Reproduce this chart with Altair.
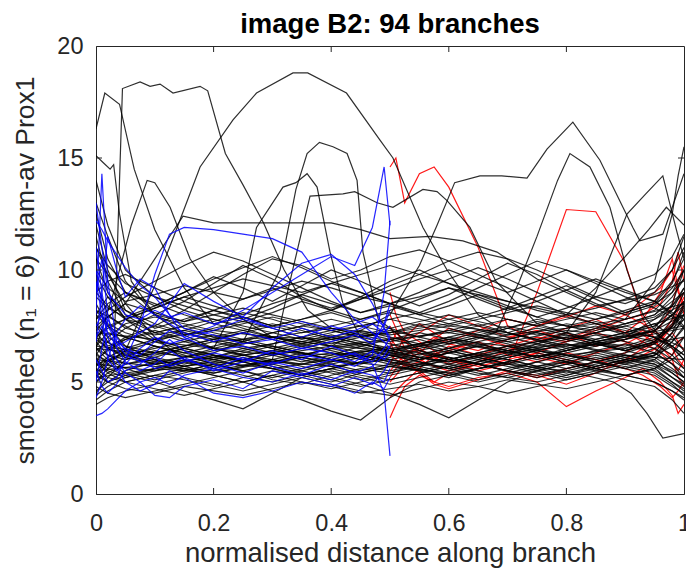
import altair as alt
import pandas as pd

W, H = 588, 448

title_text = "image B2: 94 branches"
x_title = "normalised distance along branch"
y_title = "smoothed (n\u2081 = 6) diam-av Prox1"

x_tick_values = [0, 0.2, 0.4, 0.6, 0.8, 1]
y_tick_values = [0, 5, 10, 15, 20]
x_inner_ticks = [0.2, 0.4, 0.6, 0.8]
y_inner_ticks = [5, 10, 15]

# shared sample positions
x_full = [0, 0.02, 0.05, 0.1, 0.15, 0.2, 0.25, 0.3, 0.35, 0.4, 0.45, 0.5,
          0.55, 0.6, 0.65, 0.7, 0.75, 0.8, 0.85, 0.9, 0.95, 0.98, 1]
x_left = [0, 0.01, 0.02, 0.035, 0.05, 0.075, 0.1, 0.125, 0.15, 0.2, 0.25,
          0.3, 0.35, 0.4, 0.44, 0.47, 0.49, 0.5]
x_right = [0.5, 0.51, 0.525, 0.55, 0.575, 0.6, 0.65, 0.7, 0.75, 0.8, 0.85,
           0.9, 0.93, 0.96, 0.98, 0.99, 1]

# black branches sampled on x_full
black_band = [
    [5.0, 5.4, 5.8, 6.0, 5.7, 5.9, 6.2, 6.0, 5.8, 6.1, 6.4, 6.2, 6.0, 6.3, 6.6, 6.4, 6.1, 6.5, 6.8, 6.6, 7.0, 7.4, 7.8],
    [9.5, 8.0, 7.4, 7.1, 7.3, 7.0, 6.8, 7.2, 7.5, 7.3, 7.0, 7.2, 7.6, 7.4, 7.1, 7.4, 7.7, 7.5, 7.3, 7.6, 8.0, 8.8, 9.6],
    [4.2, 4.6, 5.0, 5.3, 5.1, 4.8, 5.2, 5.5, 5.3, 5.0, 5.4, 5.7, 5.5, 5.2, 5.6, 5.9, 5.6, 5.3, 5.7, 6.0, 5.8, 5.2, 4.8],
    [12.0, 10.0, 8.2, 7.4, 7.8, 8.2, 7.9, 7.5, 7.8, 8.1, 7.7, 7.4, 7.0, 7.3, 7.6, 7.2, 6.9, 7.2, 7.5, 7.1, 6.8, 7.5, 8.5],
    [6.5, 6.0, 5.6, 5.2, 5.5, 5.8, 5.5, 5.1, 4.9, 5.3, 5.6, 5.4, 5.8, 6.1, 5.8, 5.5, 5.9, 6.2, 5.9, 5.6, 6.0, 6.8, 7.5],
    [8.0, 8.8, 8.2, 7.6, 7.2, 6.8, 6.5, 6.7, 7.0, 6.6, 6.3, 6.6, 6.9, 6.5, 6.2, 6.5, 6.8, 7.1, 6.8, 6.4, 6.7, 6.2, 5.6],
    [5.5, 5.0, 4.7, 4.5, 4.8, 4.6, 4.4, 4.7, 5.0, 4.8, 4.5, 4.7, 4.9, 4.6, 4.8, 5.1, 4.9, 4.7, 5.0, 5.3, 5.0, 4.6, 4.3],
    [10.5, 9.0, 7.8, 6.9, 6.5, 6.2, 6.0, 6.3, 6.1, 5.9, 6.2, 6.5, 6.3, 6.0, 5.8, 6.1, 6.4, 6.2, 6.0, 6.3, 6.7, 7.5, 8.2],
    [7.0, 7.5, 7.8, 7.5, 7.1, 7.4, 7.7, 7.4, 7.0, 6.7, 7.0, 7.3, 7.0, 6.7, 7.0, 7.4, 7.8, 7.5, 7.2, 7.6, 8.0, 8.6, 9.0],
    [4.5, 5.2, 6.0, 6.4, 6.1, 6.5, 6.8, 6.5, 6.2, 6.5, 6.7, 6.4, 6.1, 5.9, 6.2, 6.0, 5.7, 5.9, 6.2, 5.9, 5.6, 5.0, 4.6],
    [13.0, 11.5, 9.5, 8.0, 7.4, 7.0, 7.3, 7.6, 7.3, 6.9, 6.6, 6.9, 7.2, 6.9, 6.6, 6.9, 7.2, 6.9, 6.6, 6.9, 7.4, 8.5, 10.0],
    [5.8, 5.5, 5.2, 5.5, 5.9, 5.6, 5.3, 5.0, 5.3, 5.6, 5.3, 5.1, 5.4, 5.7, 5.4, 5.2, 5.5, 5.8, 5.5, 5.3, 5.6, 6.0, 6.4],
    [9.0, 8.4, 7.8, 8.3, 8.8, 8.4, 8.0, 8.5, 8.9, 8.5, 8.1, 8.4, 8.0, 7.6, 7.9, 8.3, 7.9, 7.5, 7.8, 8.2, 8.6, 9.5, 10.5],
    [6.0, 6.4, 6.9, 7.3, 6.9, 6.5, 6.2, 5.9, 6.2, 6.5, 6.2, 5.9, 5.7, 6.0, 6.3, 6.6, 6.3, 6.0, 5.7, 6.0, 6.3, 5.8, 5.2],
    [7.5, 6.8, 6.2, 5.8, 6.1, 6.4, 6.7, 7.0, 6.7, 7.0, 7.3, 7.0, 6.7, 7.0, 7.3, 7.0, 6.7, 6.4, 6.7, 7.0, 7.3, 8.0, 8.6],
    [11.0, 9.8, 8.5, 7.0, 6.0, 5.6, 5.9, 5.6, 5.3, 5.6, 5.9, 6.2, 5.9, 5.6, 5.3, 5.6, 5.9, 5.6, 5.9, 6.2, 5.9, 5.5, 5.2],
    [4.8, 4.5, 4.3, 4.6, 4.9, 5.2, 5.5, 5.8, 6.1, 5.8, 5.5, 5.8, 6.1, 6.4, 6.1, 5.8, 6.1, 6.4, 6.7, 6.4, 6.8, 7.5, 8.0],
    [6.2, 7.0, 7.6, 7.9, 7.6, 7.3, 7.6, 7.9, 7.6, 7.3, 7.5, 7.8, 7.5, 7.2, 7.5, 7.8, 7.5, 7.2, 6.9, 7.2, 7.6, 7.0, 6.4],
    [8.5, 7.5, 6.6, 6.0, 5.7, 5.4, 5.7, 6.0, 5.7, 5.4, 5.1, 5.4, 5.7, 5.4, 5.1, 5.4, 5.7, 6.0, 6.3, 6.0, 6.3, 7.2, 8.4],
    [5.2, 5.8, 6.4, 6.8, 7.2, 6.9, 6.6, 6.3, 6.6, 6.9, 7.2, 6.9, 6.6, 6.3, 6.0, 6.3, 6.6, 6.9, 7.2, 7.5, 7.2, 6.6, 6.0],
    [14.0, 12.0, 10.0, 8.8, 8.2, 7.8, 7.4, 7.0, 6.7, 7.0, 6.7, 6.4, 6.7, 7.0, 6.7, 6.4, 6.1, 6.4, 6.7, 6.4, 6.8, 7.8, 9.0],
    [6.8, 6.2, 5.8, 6.1, 6.5, 6.2, 5.9, 6.2, 6.5, 6.8, 6.5, 6.2, 6.5, 6.8, 7.1, 6.8, 6.5, 6.8, 7.1, 6.8, 6.5, 6.0, 5.6],
    [4.0, 4.3, 4.6, 4.9, 5.2, 4.9, 4.6, 4.9, 5.2, 4.9, 4.6, 4.4, 4.7, 5.0, 4.8, 4.5, 4.8, 5.1, 5.4, 5.1, 4.8, 4.2, 3.6],
    [7.8, 8.5, 9.0, 8.5, 8.0, 7.6, 7.9, 7.5, 7.2, 7.5, 7.8, 8.1, 7.8, 7.5, 7.8, 8.1, 8.4, 8.1, 7.8, 8.1, 8.5, 9.4, 10.8],
    [5.5, 6.0, 6.3, 6.0, 5.7, 6.0, 6.3, 6.6, 6.3, 6.0, 5.7, 5.5, 5.8, 6.1, 5.8, 5.5, 5.3, 5.6, 5.9, 6.2, 6.0, 5.4, 5.0],
    [9.8, 8.8, 7.8, 7.2, 6.8, 7.1, 6.8, 6.5, 6.8, 7.1, 6.8, 6.5, 6.2, 6.5, 6.8, 7.1, 7.4, 7.1, 6.8, 7.1, 7.5, 8.2, 9.2],
    [6.3, 5.8, 5.4, 5.1, 5.4, 5.7, 6.0, 5.7, 5.4, 5.1, 4.8, 5.1, 5.4, 5.7, 6.0, 5.7, 5.4, 5.1, 5.4, 5.7, 5.4, 4.9, 4.4],
    [7.2, 6.6, 6.9, 7.2, 7.5, 7.8, 7.5, 7.2, 6.9, 7.2, 7.5, 7.8, 8.1, 7.8, 7.5, 7.2, 6.9, 6.6, 6.9, 7.2, 7.0, 6.5, 6.0],
    [5.0, 5.6, 6.1, 6.6, 6.3, 6.0, 5.7, 6.0, 6.3, 6.0, 5.8, 6.1, 6.4, 6.1, 5.8, 6.1, 6.4, 6.7, 6.4, 6.1, 6.5, 7.2, 7.8],
    [12.5, 10.5, 9.0, 8.0, 7.7, 8.0, 8.3, 8.0, 7.7, 7.4, 7.1, 7.4, 7.7, 8.0, 7.7, 7.4, 7.1, 7.4, 7.7, 7.4, 7.0, 6.6, 6.2],
    [6.0, 5.4, 5.0, 4.7, 4.4, 4.7, 5.0, 5.3, 5.0, 4.7, 5.0, 5.3, 5.6, 5.3, 5.0, 5.3, 5.6, 5.9, 5.6, 5.3, 5.6, 6.2, 7.0],
    [8.2, 7.6, 7.2, 6.8, 6.4, 6.1, 6.4, 6.7, 7.0, 7.3, 7.0, 6.7, 6.4, 6.7, 7.0, 6.7, 6.4, 6.1, 6.4, 6.7, 6.3, 5.8, 5.4],
    [4.6, 5.0, 5.5, 5.9, 5.6, 5.3, 5.0, 5.3, 5.6, 5.9, 6.2, 5.9, 5.6, 5.3, 5.6, 5.9, 6.2, 5.9, 5.6, 5.9, 6.2, 6.8, 7.4],
    [10.0, 9.2, 8.6, 8.9, 9.3, 9.0, 8.7, 9.1, 9.5, 9.2, 8.8, 8.5, 8.8, 9.2, 8.9, 8.6, 8.3, 8.0, 8.3, 8.7, 9.2, 10.0, 11.5],
    [5.3, 5.0, 5.3, 5.6, 5.9, 6.2, 5.9, 5.6, 5.3, 5.6, 5.9, 6.2, 5.9, 5.6, 5.9, 6.2, 6.5, 6.2, 5.9, 5.6, 5.3, 4.8, 4.5],
    [7.6, 7.0, 6.6, 6.3, 6.6, 6.9, 7.2, 6.9, 6.6, 6.3, 6.0, 6.3, 6.6, 6.9, 7.2, 7.5, 7.2, 6.9, 7.2, 7.5, 7.8, 8.4, 9.2],
    [5.9, 6.5, 7.0, 6.6, 6.2, 5.8, 5.5, 5.2, 5.5, 5.8, 6.1, 5.8, 5.5, 5.8, 6.1, 5.8, 5.5, 5.2, 5.5, 5.8, 5.5, 5.0, 4.7],
    [11.5, 9.5, 8.0, 7.2, 7.5, 7.2, 6.9, 7.2, 7.5, 7.8, 7.5, 7.2, 7.5, 7.8, 8.1, 7.8, 7.5, 7.8, 8.1, 7.8, 8.2, 9.0, 10.0],
    [4.4, 4.8, 5.2, 5.6, 6.0, 5.7, 6.0, 6.3, 6.0, 5.7, 5.4, 5.7, 6.0, 6.3, 6.6, 6.3, 6.0, 6.3, 6.6, 6.9, 7.3, 8.0, 8.6],
    [6.6, 7.2, 7.0, 6.6, 6.3, 6.6, 6.9, 6.6, 6.3, 6.0, 6.3, 6.0, 5.7, 6.0, 6.3, 6.0, 5.7, 5.4, 5.7, 6.0, 5.7, 5.2, 4.9],
    [8.0, 7.5, 7.0, 7.5, 8.2, 9.0, 9.8, 10.5, 10.2, 9.6, 10.0, 10.6, 10.9, 10.4, 9.8, 9.2, 8.6, 8.0, 7.6, 7.2, 7.5, 8.0, 8.4],
    [6.0, 5.6, 5.3, 5.0, 4.6, 4.2, 3.8, 4.5, 5.2, 5.5, 5.2, 4.9, 5.2, 5.5, 5.8, 5.5, 5.2, 5.5, 5.8, 6.1, 5.8, 5.4, 5.0],
    [5.6, 5.2, 5.0, 5.3, 5.6, 5.3, 5.0, 4.6, 4.2, 3.7, 3.3, 4.3, 5.0, 5.3, 5.6, 5.9, 6.2, 5.9, 5.6, 5.9, 6.2, 6.6, 7.0],
    [7.0, 6.5, 6.1, 5.8, 5.5, 5.8, 6.1, 5.8, 5.5, 5.2, 4.9, 4.5, 4.0, 3.4, 4.2, 5.0, 5.5, 5.8, 6.1, 5.8, 6.2, 7.0, 8.0],
    [6.5, 6.2, 6.0, 6.3, 6.6, 6.9, 7.2, 7.5, 7.8, 8.2, 8.7, 9.3, 9.8, 10.4, 10.8, 10.5, 10.0, 9.4, 8.8, 8.5, 9.0, 10.0, 11.0],
    [7.0, 7.4, 7.8, 8.3, 8.8, 9.2, 9.6, 9.3, 9.0, 9.4, 9.8, 10.2, 9.8, 9.4, 9.0, 8.6, 8.2, 7.9, 7.6, 7.3, 7.0, 6.6, 6.2],
    [5.7, 6.1, 6.5, 6.9, 7.3, 7.7, 8.1, 7.8, 7.4, 7.0, 6.7, 6.4, 6.1, 5.8, 5.5, 5.2, 5.0, 5.3, 5.6, 5.3, 5.0, 4.6, 4.2],
    [9.0, 9.5, 9.8, 9.2, 8.6, 9.4, 10.2, 9.6, 8.8, 8.2, 8.8, 9.5, 10.0, 9.4, 8.8, 8.3, 8.8, 9.3, 8.7, 8.1, 8.5, 9.0, 9.6],
    [10.5, 9.8, 9.0, 8.4, 9.0, 9.7, 9.2, 8.6, 9.3, 10.0, 9.5, 8.9, 8.4, 8.9, 9.6, 10.3, 9.8, 9.1, 8.5, 8.0, 8.4, 9.2, 10.0],
    [7.8, 8.2, 8.8, 9.5, 10.2, 10.8, 10.4, 9.8, 9.2, 8.6, 8.1, 8.5, 9.0, 9.6, 10.1, 9.6, 9.0, 8.4, 8.0, 7.6, 7.9, 8.4, 9.0],
    [6.4, 6.8, 7.4, 8.0, 8.6, 8.2, 7.8, 8.3, 8.9, 9.4, 9.0, 8.5, 8.1, 8.6, 9.2, 9.8, 10.4, 10.0, 9.4, 8.8, 8.3, 7.9, 7.4],
    [11.0, 10.2, 9.4, 8.8, 8.4, 8.0, 7.7, 8.1, 8.6, 8.2, 7.8, 8.2, 8.7, 9.2, 8.7, 8.2, 8.6, 9.1, 9.6, 9.1, 8.6, 8.1, 7.8],
    [8.8, 8.3, 7.9, 8.4, 9.0, 9.6, 10.1, 10.6, 10.1, 9.5, 9.0, 8.5, 8.0, 8.4, 8.9, 8.4, 7.9, 8.3, 8.8, 9.3, 9.8, 10.6, 11.6],
    [7.3, 7.9, 8.5, 8.1, 7.7, 8.2, 8.7, 9.2, 8.7, 8.3, 8.7, 9.1, 9.6, 10.0, 9.5, 9.0, 9.5, 10.0, 9.5, 9.0, 8.6, 8.0, 7.5],
    [5.4, 5.9, 6.4, 6.1, 5.8, 6.1, 6.5, 6.2, 5.9, 6.2, 6.6, 6.3, 6.0, 6.3, 6.7, 6.4, 6.1, 6.4, 6.8, 6.5, 6.9, 7.6, 8.3],
    [6.9, 6.5, 6.2, 6.5, 6.8, 6.5, 6.2, 6.4, 6.7, 6.4, 6.1, 6.4, 6.7, 6.4, 6.1, 6.4, 6.7, 7.0, 6.7, 6.4, 6.1, 5.6, 5.2],
]

# black branches with their own sample positions (the tall excursions)
black_special_x = [
    [0, 0.015, 0.04, 0.065, 0.1, 0.15, 0.2, 0.3, 0.4, 0.5, 0.6, 0.7, 0.8, 0.9, 0.95, 1],
    [0, 0.03, 0.045, 0.075, 0.092, 0.109, 0.131, 0.177, 0.19, 0.22, 0.25, 0.285, 0.32, 0.36, 0.4, 0.5, 0.6, 0.7, 0.8, 0.9, 1],
    [0, 0.05, 0.1, 0.138, 0.177, 0.233, 0.273, 0.335, 0.36, 0.426, 0.483, 0.505, 0.556, 0.597, 0.65, 0.7, 0.8, 0.9, 1],
    [0, 0.05, 0.1, 0.2, 0.25, 0.313, 0.34, 0.359, 0.38, 0.403, 0.427, 0.444, 0.454, 0.48, 0.55, 0.6, 0.7, 0.8, 0.9, 1],
    [0, 0.1, 0.2, 0.25, 0.273, 0.318, 0.34, 0.359, 0.376, 0.398, 0.42, 0.45, 0.5, 0.6, 0.7, 0.8, 0.9, 1],
    [0, 0.1, 0.2, 0.3, 0.33, 0.364, 0.42, 0.44, 0.478, 0.505, 0.556, 0.58, 0.597, 0.636, 0.68, 0.75, 0.85, 0.95, 1],
    [0, 0.05, 0.1, 0.148, 0.2, 0.3, 0.4, 0.45, 0.5, 0.568, 0.624, 0.682, 0.75, 0.85, 0.95, 1],
    [0, 0.1, 0.2, 0.3, 0.4, 0.5, 0.55, 0.58, 0.61, 0.653, 0.69, 0.733, 0.767, 0.811, 0.857, 0.913, 0.925, 0.964, 1],
    [0, 0.1, 0.2, 0.3, 0.4, 0.5, 0.6, 0.68, 0.72, 0.75, 0.785, 0.806, 0.84, 0.874, 0.903, 0.93, 0.96, 1],
    [0, 0.012, 0.024, 0.03, 0.04, 0.06, 0.1, 0.15, 0.2, 0.3, 0.4, 0.5, 0.6, 0.7, 0.8, 0.9, 1],
    [0, 0.03, 0.06, 0.087, 0.1, 0.126, 0.16, 0.2, 0.25, 0.3, 0.4, 0.5, 0.6, 0.7, 0.8, 0.9, 1],
    [0, 0.1, 0.2, 0.3, 0.4, 0.5, 0.6, 0.7, 0.8, 0.85, 0.903, 0.935, 0.964, 0.985, 1],
    [0, 0.1, 0.2, 0.3, 0.4, 0.5, 0.6, 0.7, 0.8, 0.9, 0.95, 0.98, 0.99, 1],
    [0, 0.1, 0.2, 0.3, 0.4, 0.5, 0.6, 0.7, 0.8, 0.88, 0.91, 0.937, 0.964, 1],
    [0, 0.1, 0.2, 0.3, 0.4, 0.5, 0.6, 0.7, 0.8, 0.85, 0.9, 0.94, 0.97, 1],
]
black_special_y = [
    [16.3, 17.9, 17.4, 14.5, 11.8, 9.2, 7.6, 7.0, 6.6, 6.9, 7.2, 6.8, 7.3, 7.0, 7.8, 8.5],
    [6.2, 5.8, 18.1, 18.4, 18.2, 18.3, 17.9, 18.2, 18.0, 15.2, 13.8, 12.1, 10.0, 8.2, 7.4, 6.8, 7.3, 6.9, 7.6, 7.2, 8.0],
    [7.0, 6.4, 9.3, 11.9, 14.6, 16.7, 17.9, 18.8, 18.8, 17.9, 15.8, 15.0, 11.9, 10.0, 8.0, 7.2, 6.5, 6.9, 7.4],
    [5.8, 6.2, 5.9, 6.3, 6.8, 10.0, 13.6, 15.2, 15.7, 15.5, 15.2, 14.0, 10.8, 7.8, 6.4, 6.0, 6.6, 6.2, 6.5, 7.0],
    [8.2, 6.8, 6.5, 9.0, 11.9, 13.7, 13.9, 14.3, 13.7, 10.8, 8.5, 7.0, 6.3, 5.9, 6.4, 6.7, 6.2, 6.0],
    [6.0, 5.7, 5.5, 6.0, 9.5, 13.3, 13.4, 13.5, 13.0, 12.8, 13.6, 13.5, 13.1, 11.9, 9.5, 7.6, 6.8, 7.3, 8.0],
    [7.5, 8.5, 10.5, 12.4, 12.1, 12.1, 12.1, 11.8, 11.4, 11.5, 11.3, 10.8, 9.6, 8.4, 8.9, 9.5],
    [6.5, 6.2, 6.8, 7.0, 6.6, 8.0, 10.2, 12.0, 13.9, 14.2, 14.2, 14.1, 15.4, 16.6, 14.9, 11.9, 11.3, 11.6, 14.3],
    [5.5, 5.8, 6.1, 5.9, 6.3, 6.0, 6.5, 7.2, 9.5, 11.5, 14.0, 15.2, 14.6, 12.8, 10.0, 8.0, 7.0, 6.5],
    [15.1, 14.8, 14.5, 14.7, 12.5, 9.5, 8.0, 7.1, 6.5, 6.2, 6.6, 6.4, 6.8, 6.3, 6.6, 7.0, 7.5],
    [6.5, 9.0, 12.0, 14.0, 13.9, 12.8, 10.5, 9.0, 7.8, 7.0, 6.9, 7.2, 7.6, 7.1, 7.4, 7.8, 8.5],
    [5.2, 5.6, 5.4, 5.9, 5.7, 6.0, 5.6, 6.2, 7.2, 9.0, 12.5, 13.4, 14.2, 12.0, 10.5],
    [6.6, 6.3, 6.0, 6.4, 6.2, 6.5, 6.9, 6.6, 7.0, 7.8, 9.5, 12.5, 14.2, 15.5],
    [5.8, 5.5, 5.9, 5.6, 6.0, 5.7, 5.4, 5.8, 5.5, 5.0, 4.5, 3.6, 2.5, 2.7],
    [7.2, 6.9, 7.3, 7.0, 7.4, 7.1, 7.5, 7.2, 8.0, 9.2, 10.6, 11.8, 12.8, 12.0],
]

# blue branches sampled on x_left (first half of the branch)
blue_lines = [
    [8.0, 14.3, 9.5, 6.8, 6.2, 5.9, 6.1, 5.7, 5.9, 6.3, 6.0, 5.8, 6.2, 6.0, 6.3, 5.9, 6.5, 7.0],
    [6.0, 5.5, 5.0, 5.2, 6.0, 7.5, 9.8, 11.6, 11.9, 11.8, 11.6, 11.4, 10.8, 9.0, 7.8, 7.2, 6.8, 6.5],
    [11.0, 9.0, 7.5, 6.8, 6.5, 6.2, 6.8, 7.3, 7.0, 7.5, 8.2, 9.0, 9.8, 10.6, 10.2, 11.9, 14.6, 12.0],
    [5.0, 6.5, 7.8, 7.0, 6.4, 6.0, 5.6, 5.8, 6.1, 5.5, 5.9, 6.4, 6.0, 6.6, 6.2, 5.8, 4.5, 1.7],
    [12.2, 11.8, 11.3, 10.7, 10.1, 9.3, 8.8, 8.0, 7.4, 7.1, 6.7, 6.9, 7.4, 7.0, 7.3, 7.6, 7.2, 7.5],
    [3.5, 3.6, 3.8, 4.2, 4.6, 5.0, 5.2, 4.9, 5.3, 5.6, 5.2, 5.0, 5.4, 5.1, 5.5, 5.3, 5.0, 5.6],
    [10.0, 8.5, 7.0, 6.0, 5.4, 5.0, 4.4, 4.3, 4.8, 5.1, 4.7, 5.5, 5.2, 4.9, 4.5, 5.0, 4.7, 5.2],
    [13.0, 11.0, 9.0, 8.5, 8.0, 7.8, 8.2, 7.9, 8.1, 7.6, 7.9, 7.4, 7.7, 7.3, 7.6, 7.9, 7.5, 8.2],
    [7.5, 8.0, 7.2, 6.6, 6.8, 7.2, 7.6, 8.5, 9.4, 8.6, 7.9, 9.2, 10.3, 10.7, 9.8, 8.5, 7.4, 6.8],
    [9.0, 10.5, 8.0, 6.5, 5.9, 5.5, 5.8, 6.4, 6.0, 5.6, 6.1, 5.7, 5.3, 5.8, 5.4, 5.7, 6.2, 6.6],
    [4.3, 5.0, 6.0, 7.2, 7.8, 8.4, 8.0, 7.6, 7.2, 6.8, 7.2, 6.9, 6.5, 6.8, 7.1, 6.7, 7.6, 8.5],
    [6.8, 9.0, 11.5, 10.0, 8.8, 9.6, 9.2, 8.0, 7.0, 6.4, 6.6, 6.2, 6.5, 6.3, 5.9, 6.4, 6.0, 6.3],
    [5.5, 4.8, 4.5, 4.9, 5.5, 5.8, 6.3, 6.9, 6.4, 5.8, 5.4, 5.9, 5.6, 6.0, 5.7, 6.2, 9.0, 12.2],
    [7.0, 7.5, 6.5, 5.6, 5.0, 4.6, 4.9, 5.5, 5.2, 4.5, 4.3, 4.6, 5.0, 4.8, 5.2, 4.9, 5.5, 6.0],
    [9.5, 8.0, 6.0, 5.5, 5.8, 6.5, 7.0, 6.7, 6.9, 7.3, 7.8, 7.4, 7.0, 7.5, 7.2, 6.9, 7.4, 7.0],
]

# red branches sampled on x_right (second half of the branch)
red_lines = [
    [14.6, 15.0, 13.0, 14.3, 14.6, 13.7, 11.0, 7.5, 6.8, 7.2, 6.6, 6.9, 7.3, 6.8, 7.5, 8.0, 8.4],
    [6.2, 6.0, 5.7, 5.9, 6.3, 6.0, 5.5, 5.8, 9.0, 12.7, 12.6, 10.3, 7.8, 6.5, 6.2, 6.8, 7.0],
    [5.5, 5.8, 6.2, 6.5, 6.1, 5.8, 6.2, 6.6, 7.0, 6.8, 7.3, 7.8, 8.0, 8.5, 9.5, 10.8, 9.5],
    [5.0, 5.3, 5.8, 5.5, 5.0, 4.8, 5.2, 5.4, 5.0, 3.9, 4.6, 5.2, 5.6, 5.0, 4.4, 3.6, 4.0],
    [7.5, 7.0, 6.8, 7.2, 7.6, 8.0, 7.5, 7.0, 7.3, 6.9, 7.4, 8.0, 8.6, 9.2, 10.0, 9.0, 8.5],
    [6.5, 7.2, 6.8, 6.3, 6.0, 6.4, 6.8, 6.2, 5.9, 6.3, 6.0, 5.6, 5.3, 4.8, 4.3, 4.6, 5.0],
    [4.3, 4.6, 5.0, 5.6, 6.2, 6.6, 6.2, 5.8, 6.3, 6.8, 7.2, 6.8, 6.4, 6.9, 7.6, 8.2, 8.8],
    [8.0, 7.4, 6.5, 6.0, 5.7, 5.5, 5.9, 6.4, 6.9, 7.4, 7.8, 7.2, 6.8, 6.3, 5.8, 5.5, 6.0],
    [5.8, 6.3, 7.0, 7.6, 7.2, 6.8, 7.3, 7.8, 7.5, 7.9, 8.4, 8.0, 7.6, 7.1, 6.5, 6.0, 5.7],
    [3.4, 4.0, 4.8, 5.3, 5.0, 5.4, 5.8, 5.5, 5.2, 5.6, 5.9, 6.3, 6.8, 7.5, 8.4, 9.5, 10.2],
    [6.8, 6.2, 5.9, 6.3, 6.9, 7.4, 7.0, 6.6, 6.1, 5.8, 6.3, 6.7, 7.1, 6.6, 6.0, 5.2, 4.8],
    [5.2, 5.6, 6.0, 5.4, 4.9, 4.7, 5.1, 5.5, 5.3, 4.9, 5.4, 6.0, 6.5, 7.0, 7.8, 8.5, 9.0],
    [7.0, 6.6, 6.2, 6.6, 7.0, 6.7, 6.4, 6.9, 7.5, 8.0, 7.6, 7.2, 7.8, 9.0, 10.5, 9.2, 8.0],
    [9.0, 8.0, 7.2, 6.8, 6.4, 6.0, 5.7, 6.0, 6.3, 6.0, 5.6, 5.9, 6.2, 6.6, 7.2, 6.8, 6.4],
]

# ---- build one long table ----
def rows(xs, ys, bid, grp):
    return [{"x": a, "y": b, "branch": bid, "group": grp} for a, b in zip(xs, ys)]

all_rows = []
for i, ys in enumerate(black_band):
    all_rows += rows(x_full, ys, f"k{i}", "black")
for i, (xs, ys) in enumerate(zip(black_special_x, black_special_y)):
    all_rows += rows(xs, ys, f"s{i}", "black")
for i, ys in enumerate(blue_lines):
    all_rows += rows(x_left, ys, f"b{i}", "blue")
for i, ys in enumerate(red_lines):
    all_rows += rows(x_right, ys, f"r{i}", "red")
for v in x_inner_ticks:
    all_rows.append({"x": v, "y": None, "branch": "xt", "group": "xtick"})
for v in y_inner_ticks:
    all_rows.append({"x": None, "y": v, "branch": "yt", "group": "ytick"})

df = pd.DataFrame(all_rows)

AX = "#262626"
FONT = "Liberation Sans"

xscale = alt.Scale(domain=[0, 1], nice=False, zero=False)
yscale = alt.Scale(domain=[0, 20], nice=False, zero=False)

x_axis = alt.Axis(values=x_tick_values, format="~g", title=x_title, grid=False,
                  ticks=False, tickSize=0, labelPadding=36, labelBaseline="alphabetic",
                  labelFontSize=23.5, labelFont=FONT, labelColor=AX,
                  titleFontSize=27.5, titleFont=FONT, titleColor=AX, titleFontWeight="normal",
                  titleBaseline="alphabetic", titleY=67, titleX=W / 2,
                  domainColor=AX, labelFlush=False, labelOverlap=False)
y_axis = alt.Axis(values=y_tick_values, format="d", title=y_title, grid=False,
                  ticks=False, tickSize=0, labelPadding=13,
                  labelFontSize=23.5, labelFont=FONT, labelColor=AX,
                  titleFontSize=26.5, titleFont=FONT, titleColor=AX, titleFontWeight="normal",
                  titleBaseline="alphabetic", titleX=-63, titleY=H / 2,
                  domainColor=AX, labelFlush=False, labelOverlap=False)

X = alt.X("x:Q", scale=xscale, axis=x_axis)
Y = alt.Y("y:Q", scale=yscale, axis=y_axis)

base = alt.Chart(df)

red = base.transform_filter(alt.datum.group == "red").mark_line(
    strokeWidth=1.2, clip=True, color="#ff0000", opacity=0.9).encode(x=X, y=Y, detail="branch:N")
black = base.transform_filter(alt.datum.group == "black").mark_line(
    strokeWidth=1.2, clip=True, color="#000000", opacity=0.82).encode(x=X, y=Y, detail="branch:N")
blue = base.transform_filter(alt.datum.group == "blue").mark_line(
    strokeWidth=1.2, clip=True, color="#0000ff", opacity=0.85).encode(x=X, y=Y, detail="branch:N")

tick_bottom = base.transform_filter(alt.datum.group == "xtick").mark_rule(color=AX, strokeWidth=1).encode(
    x=X, y=alt.value(H), y2=alt.value(H - 6))
tick_top = base.transform_filter(alt.datum.group == "xtick").mark_rule(color=AX, strokeWidth=1).encode(
    x=X, y=alt.value(0), y2=alt.value(6))
tick_left = base.transform_filter(alt.datum.group == "ytick").mark_rule(color=AX, strokeWidth=1).encode(
    y=Y, x=alt.value(0), x2=alt.value(6))
tick_right = base.transform_filter(alt.datum.group == "ytick").mark_rule(color=AX, strokeWidth=1).encode(
    y=Y, x=alt.value(W), x2=alt.value(W - 6))

title_mark = alt.Chart(pd.DataFrame({"label": [title_text]})).mark_text(
    font=FONT, fontSize=27.5, fontWeight="bold", color="#000000",
    align="center", baseline="alphabetic").encode(
    text="label:N", x=alt.value(W / 2), y=alt.value(-13))

chart = alt.layer(red, black, blue, tick_bottom, tick_top, tick_left, tick_right, title_mark).properties(
    width=W, height=H,
    padding={"left": 96, "top": 46, "right": 2, "bottom": 76},
    autosize=alt.AutoSizeParams(type="none"),
    background="white",
).configure_view(stroke=AX, strokeWidth=1)

chart.save("out.html", embed_options={"renderer": "svg", "actions": False})
